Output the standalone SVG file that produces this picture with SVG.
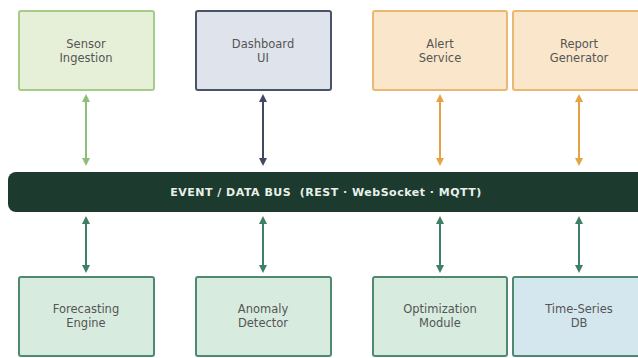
<svg xmlns="http://www.w3.org/2000/svg" width="638" height="358" viewBox="0 0 638 358">
<style>
.box{stroke-width:2}
.lbl{font-family:"DejaVu Sans","Liberation Sans",sans-serif;font-size:11.5px;fill:#555;text-anchor:middle}
.bus-t{font-family:"DejaVu Sans","Liberation Sans",sans-serif;font-size:11px;font-weight:bold;letter-spacing:0.5px;fill:#e8f0ea;text-anchor:middle;white-space:pre}
.c{stroke-width:2;fill:none}
</style>
<defs>
<marker id="ag" markerWidth="8" markerHeight="8" refX="4" refY="4" orient="auto-start-reverse" markerUnits="userSpaceOnUse"><path d="M0,0 L8,4 L0,8 z" fill="#8cc07a"/></marker>
<marker id="as" markerWidth="8" markerHeight="8" refX="4" refY="4" orient="auto-start-reverse" markerUnits="userSpaceOnUse"><path d="M0,0 L8,4 L0,8 z" fill="#3f4a60"/></marker>
<marker id="ao" markerWidth="8" markerHeight="8" refX="4" refY="4" orient="auto-start-reverse" markerUnits="userSpaceOnUse"><path d="M0,0 L8,4 L0,8 z" fill="#e4a445"/></marker>
<marker id="at" markerWidth="8" markerHeight="8" refX="4" refY="4" orient="auto-start-reverse" markerUnits="userSpaceOnUse"><path d="M0,0 L8,4 L0,8 z" fill="#3f7f66"/></marker>
</defs>
<rect width="638" height="358" fill="#ffffff"/>
<g id="connectors">
<line class="c" x1="86" y1="98" x2="86" y2="162" stroke="#8cc07a" marker-start="url(#ag)" marker-end="url(#ag)"/>
<line class="c" x1="263" y1="98" x2="263" y2="162" stroke="#3f4a60" marker-start="url(#as)" marker-end="url(#as)"/>
<line class="c" x1="440" y1="98" x2="440" y2="162" stroke="#e4a445" marker-start="url(#ao)" marker-end="url(#ao)"/>
<line class="c" x1="579" y1="98" x2="579" y2="162" stroke="#e4a445" marker-start="url(#ao)" marker-end="url(#ao)"/>
<line class="c" x1="86" y1="220" x2="86" y2="269" stroke="#3f7f66" marker-start="url(#at)" marker-end="url(#at)"/>
<line class="c" x1="263" y1="220" x2="263" y2="269" stroke="#3f7f66" marker-start="url(#at)" marker-end="url(#at)"/>
<line class="c" x1="440" y1="220" x2="440" y2="269" stroke="#3f7f66" marker-start="url(#at)" marker-end="url(#at)"/>
<line class="c" x1="579" y1="220" x2="579" y2="269" stroke="#3f7f66" marker-start="url(#at)" marker-end="url(#at)"/>
</g>
<g id="sensor"><rect class="box" x="19" y="11" width="135" height="79" rx="2" fill="#e6f0d9" stroke="#a6cc8a"/><text class="lbl" x="86" y="48">Sensor</text><text class="lbl" x="86" y="62">Ingestion</text></g>
<g id="dashboard"><rect class="box" x="196" y="11" width="135" height="79" rx="2" fill="#dfe3ec" stroke="#4a5468"/><text class="lbl" x="263" y="48">Dashboard</text><text class="lbl" x="263" y="62">UI</text></g>
<g id="alert"><rect class="box" x="373" y="11" width="134" height="79" rx="2" fill="#fae7cb" stroke="#eab872"/><text class="lbl" x="440" y="48">Alert</text><text class="lbl" x="440" y="62">Service</text></g>
<g id="report"><rect class="box" x="513" y="11" width="134" height="79" rx="2" fill="#fae7cb" stroke="#eab872"/><text class="lbl" x="579" y="48">Report</text><text class="lbl" x="579" y="62">Generator</text></g>
<g id="bus"><rect x="8" y="172" width="640" height="40" rx="8" fill="#1c3b2e"/><text class="bus-t" x="326" y="196" xml:space="preserve">EVENT / DATA BUS  (REST · WebSocket · MQTT)</text></g>
<g id="forecasting"><rect class="box" x="19" y="277" width="135" height="79" rx="2" fill="#d8ebdf" stroke="#4f8a70"/><text class="lbl" x="86" y="313">Forecasting</text><text class="lbl" x="86" y="327">Engine</text></g>
<g id="anomaly"><rect class="box" x="196" y="277" width="135" height="79" rx="2" fill="#d8ebdf" stroke="#4f8a70"/><text class="lbl" x="263" y="313">Anomaly</text><text class="lbl" x="263" y="327">Detector</text></g>
<g id="optimization"><rect class="box" x="373" y="277" width="134" height="79" rx="2" fill="#d8ebdf" stroke="#4f8a70"/><text class="lbl" x="440" y="313">Optimization</text><text class="lbl" x="440" y="327">Module</text></g>
<g id="timeseries"><rect class="box" x="513" y="277" width="134" height="79" rx="2" fill="#d5e7ee" stroke="#4f8a70"/><text class="lbl" x="579" y="313">Time-Series</text><text class="lbl" x="579" y="327">DB</text></g>
</svg>
